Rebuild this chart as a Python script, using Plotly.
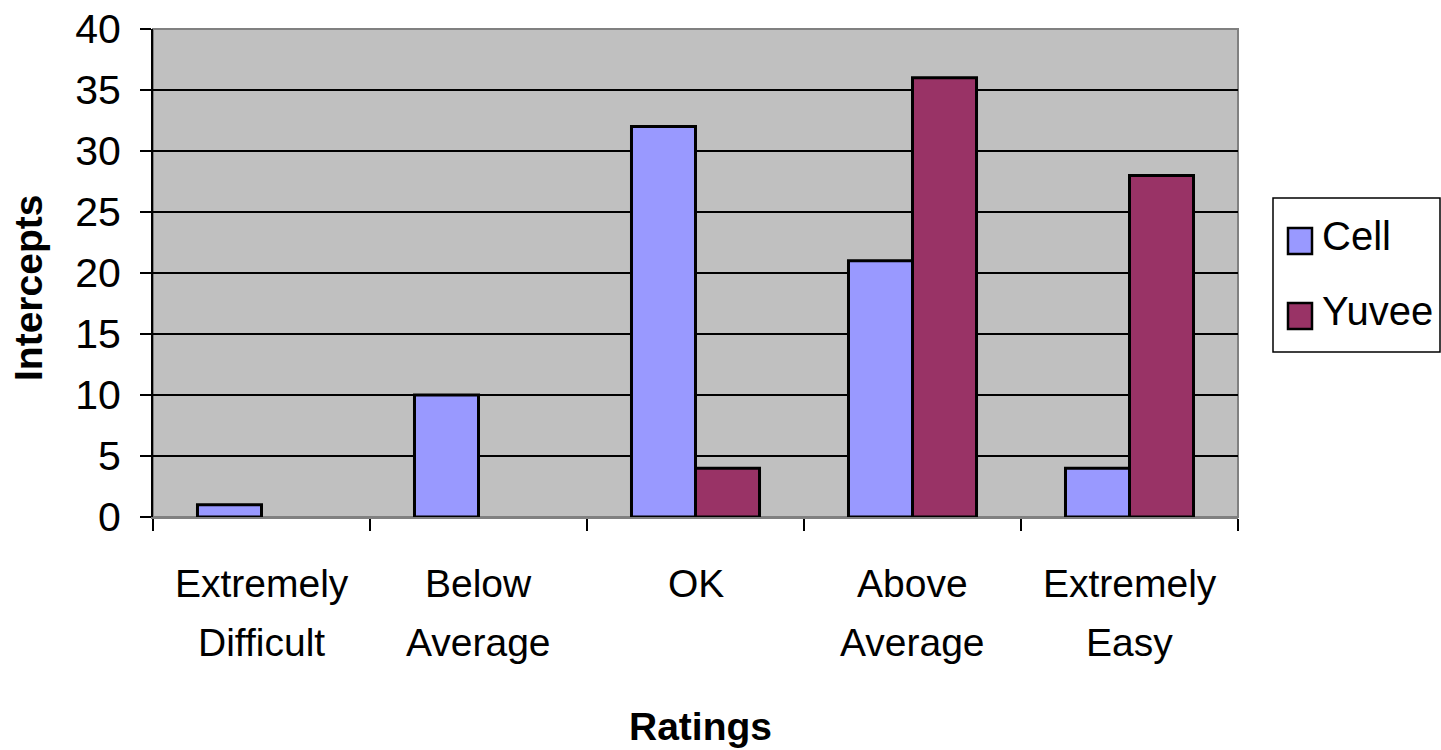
import plotly.graph_objects as go

# Survey data: how hard each device was to use
categories = ["Extremely Difficult", "Below Average", "OK", "Above Average", "Extremely Easy"]
series_names = ["Cell", "Yuvee"]
cell_values = [1, 10, 32, 21, 4]
yuvee_values = [0, 0, 4, 36, 28]
y_ticks = [0, 5, 10, 15, 20, 25, 30, 35, 40]

colors = ["#9999FF", "#993366"]
FONT = "Liberation Sans, Arial, sans-serif"

W, H = 1441, 750
L, R, T, B = 153, 1238, 29, 517  # plot area in pixels


def px_x(p):
    return (p - L) / (R - L)


def px_y(p):
    return (B - p) / (B - T)


fig = go.Figure()
for name, vals, col in zip(series_names, [cell_values, yuvee_values], colors):
    fig.add_trace(go.Bar(
        x=categories, y=vals, name=name,
        marker=dict(color=col,
                    line=dict(color="black", width=[3 if v > 0 else 0 for v in vals])),
        showlegend=False,
    ))

annotations = []
# two-line category labels under the axis
for cat in categories:
    parts = cat.split(" ")
    for i, part in enumerate(parts):
        annotations.append(dict(
            x=cat, xref="x", y=px_y(583 + 59 * i), yref="paper",
            text=part, showarrow=False, xanchor="center", yanchor="middle",
            font=dict(family=FONT, size=39, color="black"),
        ))

# axis titles
annotations.append(dict(
    x=px_x(700), xref="paper", y=px_y(726), yref="paper",
    text="<b>Ratings</b>", showarrow=False, xanchor="center", yanchor="middle",
    font=dict(family=FONT, size=39, color="black"),
))
annotations.append(dict(
    x=px_x(28), xref="paper", y=px_y(288), yref="paper",
    text="<b>Intercepts</b>", showarrow=False, xanchor="center", yanchor="middle",
    textangle=-90, font=dict(family=FONT, size=39, color="black"),
))

shapes = []
# plot-area frame
shapes.append(dict(type="rect", xref="paper", yref="paper", x0=0, x1=1, y0=0, y1=1,
                   line=dict(color="#808080", width=2), fillcolor="rgba(0,0,0,0)", layer="below"))

# legend box
shapes.append(dict(type="rect", xref="paper", yref="paper",
                   x0=px_x(1273), x1=px_x(1440), y0=px_y(352), y1=px_y(198),
                   line=dict(color="black", width=1.5), fillcolor="white"))
legend_rows = [241, 316]
for name, col, cy in zip(series_names, colors, legend_rows):
    shapes.append(dict(type="rect", xref="paper", yref="paper",
                       x0=px_x(1288), x1=px_x(1312), y0=px_y(cy + 13), y1=px_y(cy - 13),
                       line=dict(color="black", width=2.5), fillcolor=col))
    annotations.append(dict(
        x=px_x(1320), xref="paper", y=px_y(cy - 5), yref="paper",
        text=name, showarrow=False, xanchor="left", yanchor="middle",
        font=dict(family=FONT, size=40, color="black"),
    ))

fig.update_layout(
    width=W, height=H,
    margin=dict(l=L, r=W - R, t=T, b=H - B, pad=0),
    paper_bgcolor="white", plot_bgcolor="#C0C0C0",
    barmode="group", bargap=0.41, bargroupgap=0,
    showlegend=False,
    annotations=annotations, shapes=shapes,
    font=dict(family=FONT, color="black"),
)
fig.update_xaxes(
    type="category", showticklabels=False, tickson="boundaries", automargin=False,
    ticks="outside", ticklen=12, tickwidth=1.5, tickcolor="black",
    showgrid=False, showline=True, linecolor="#808080", linewidth=2, zeroline=False,
)
fig.update_yaxes(
    range=[0, 40], tickvals=y_ticks, ticks="outside", ticklen=11, tickwidth=1.5,
    tickcolor="black", showgrid=True, gridcolor="black", gridwidth=1.5, automargin=False,
    showline=True, linecolor="black", linewidth=2, zeroline=False,
    tickfont=dict(family=FONT, size=41, color="black"), ticklabelstandoff=11,
)

fig.write_html("out.html")
